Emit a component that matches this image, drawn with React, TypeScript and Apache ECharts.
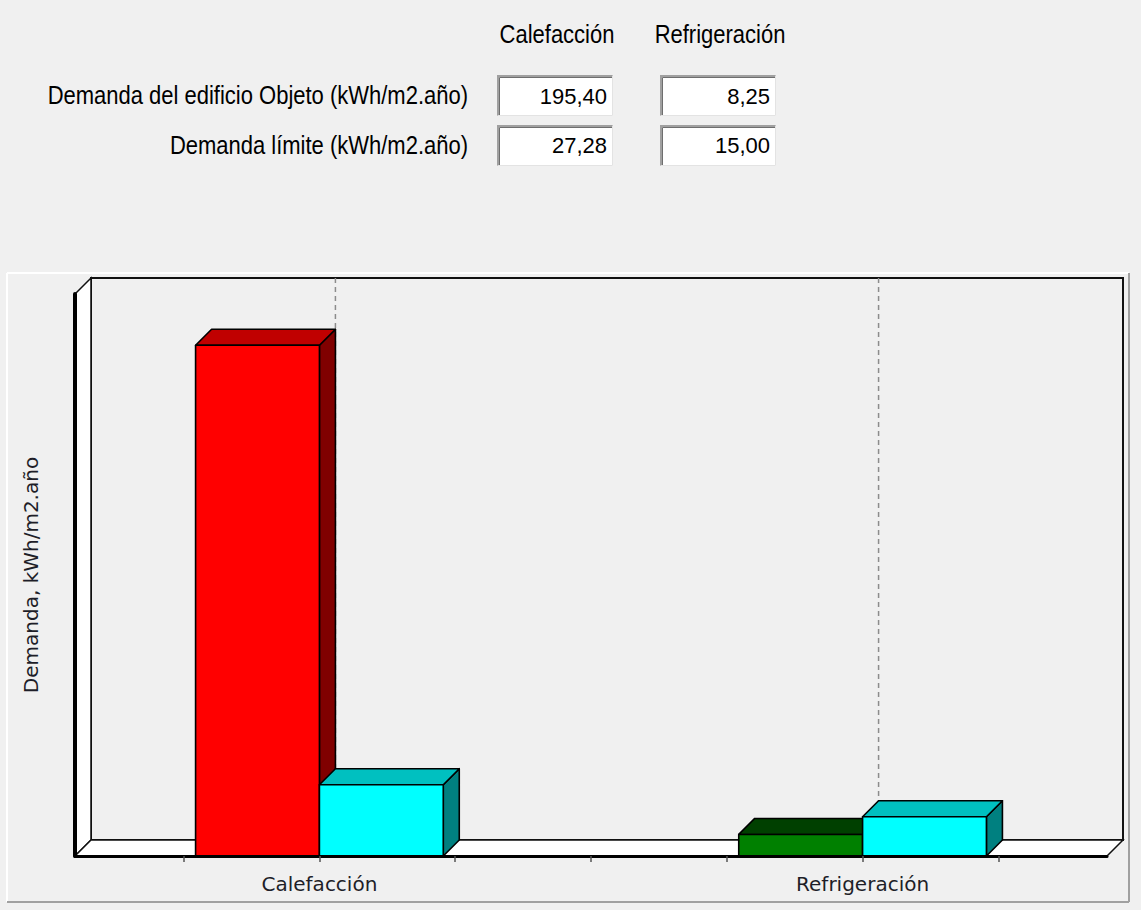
import { useEffect, useRef } from 'react';
import * as echarts from 'echarts';

// Demand figures per use (kWh/m2.año)
const categories = ['Calefacción', 'Refrigeración'];
const demandaObjeto = [195.4, 8.25];
const demandaLimite = [27.28, 15.0];
const rowLabels = ['Demanda del edificio Objeto (kWh/m2.año)', 'Demanda límite (kWh/m2.año)'];
const yAxisTitle = 'Demanda, kWh/m2.año';
const yMax = 215;
const xTickValues = [-0.25, 0, 0.25, 0.5, 0.75, 1, 1.25];

// Layout
const W = 1141;
const H = 910;
const GRID = { left: 75, right: 34, top: 294, bottom: 54 };
const DEPTH = 16;
const BAR_W = 0.228;

const FX0 = GRID.left;
const FX1 = W - GRID.right;
const FY0 = GRID.top;
const FY1 = H - GRID.bottom;

const BG = '#f0f0f0';
const UI_FONT = 'Liberation Sans';
const AXIS_FONT = 'DejaVu Sans';

// front / top / side shades
const SHADES: Record<string, string[]> = {
  red: ['#ff0000', '#c00000', '#800000'],
  green: ['#008000', '#004000', '#004000'],
  cyan: ['#00ffff', '#00c0c0', '#008080'],
};

const fmt = (v: number) => v.toFixed(2).replace('.', ',');

function barRenderer(slot: number, shadeOf: (i: number) => string[]) {
  return (params: any, api: any) => {
    const c = api.value(0);
    const v = api.value(1);
    const xl = api.coord([c + (slot - 1) * BAR_W, 0])[0];
    const xr = api.coord([c + slot * BAR_W, 0])[0];
    const yb = api.coord([c, 0])[1];
    const yt = api.coord([c, v])[1];
    const [front, top, side] = shadeOf(params.dataIndex);
    const edge = { stroke: '#000', lineWidth: 1.6, lineJoin: 'round' };
    return {
      type: 'group',
      children: [
        {
          type: 'polygon',
          shape: { points: [[xr, yt], [xr + DEPTH, yt - DEPTH], [xr + DEPTH, yb - DEPTH], [xr, yb]] },
          style: { fill: side, ...edge },
        },
        {
          type: 'polygon',
          shape: { points: [[xl, yt], [xl + DEPTH, yt - DEPTH], [xr + DEPTH, yt - DEPTH], [xr, yt]] },
          style: { fill: top, ...edge },
        },
        {
          type: 'rect',
          shape: { x: xl, y: yt, width: xr - xl, height: yb - yt },
          style: { fill: front, ...edge },
        },
      ],
    };
  };
}

function sunkenBox(x: number, y: number, w: number, h: number): any[] {
  return [
    { type: 'rect', shape: { x, y, width: w, height: h }, style: { fill: '#ffffff' } },
    {
      type: 'polyline',
      shape: { points: [[x + 1, y + h], [x + 1, y + 1], [x + w, y + 1]] },
      style: { stroke: '#a0a0a0', lineWidth: 2, fill: 'none' },
    },
    {
      type: 'polyline',
      shape: { points: [[x + 2.5, y + h - 1], [x + 2.5, y + 2.5], [x + w - 1, y + 2.5]] },
      style: { stroke: '#6e6e6e', lineWidth: 1, fill: 'none' },
    },
    {
      type: 'polyline',
      shape: { points: [[x + 0.5, y + h - 0.5], [x + w - 0.5, y + h - 0.5], [x + w - 0.5, y + 0.5]] },
      style: { stroke: '#e3e3e3', lineWidth: 1, fill: 'none' },
    },
  ];
}

function formElements(): any[] {
  const boxX = [497, 660];
  const boxY = [75, 125];
  const boxW = 116;
  const boxH = 41;
  const rows = [demandaObjeto, demandaLimite];
  const els: any[] = [];

  categories.forEach((cat, ci) => {
    els.push({
      type: 'text',
      x: boxX[ci] + boxW / 2 + 2,
      y: 35,
      scaleX: 0.88,
      style: { text: cat, fontFamily: UI_FONT, fontSize: 25, fill: '#000', align: 'center', verticalAlign: 'middle' },
    });
  });

  rows.forEach((vals, ri) => {
    const yMid = boxY[ri] + 21 - ri * 0.5;
    els.push({
      type: 'text',
      x: 468,
      y: yMid,
      scaleX: 0.88,
      style: { text: rowLabels[ri], fontFamily: UI_FONT, fontSize: 25, fill: '#000', align: 'right', verticalAlign: 'middle' },
    });
    vals.forEach((v, ci) => {
      els.push(...sunkenBox(boxX[ci], boxY[ri], boxW, boxH));
      els.push({
        type: 'text',
        x: boxX[ci] + 110,
        y: yMid,
        style: { text: fmt(v), fontFamily: UI_FONT, fontSize: 22, fill: '#000', align: 'right', verticalAlign: 'middle' },
      });
    });
  });
  return els;
}

function sceneElements(): any[] {
  const px0 = 7;
  const px1 = 1129;
  const py0 = 273;
  const py1 = 902;
  const bx0 = FX0 + DEPTH;
  const bx1 = FX1 + DEPTH;
  const by0 = FY0 - DEPTH;
  const by1 = FY1 - DEPTH;
  return [
    // chart panel frame
    { type: 'line', z: -5, shape: { x1: px0, y1: py0, x2: px1, y2: py0 }, style: { stroke: '#ffffff', lineWidth: 2 } },
    { type: 'line', z: -5, shape: { x1: px0, y1: py0, x2: px0, y2: py1 }, style: { stroke: '#ffffff', lineWidth: 2 } },
    { type: 'line', z: -5, shape: { x1: px0, y1: py1, x2: px1, y2: py1 }, style: { stroke: '#a0a0a0', lineWidth: 2 } },
    { type: 'line', z: -5, shape: { x1: px1, y1: py0, x2: px1, y2: py1 }, style: { stroke: '#a0a0a0', lineWidth: 2 } },
    // back wall
    {
      type: 'rect',
      z: -4,
      shape: { x: bx0, y: by0, width: bx1 - bx0, height: by1 - by0 },
      style: { fill: BG, stroke: '#111', lineWidth: 2 },
    },
    // left wall
    {
      type: 'polygon',
      z: -3,
      shape: { points: [[FX0, FY0], [bx0, by0], [bx0, by1], [FX0, FY1]] },
      style: { fill: '#ffffff', stroke: '#111', lineWidth: 1.5 },
    },
    // floor
    {
      type: 'polygon',
      z: -3,
      shape: { points: [[FX0, FY1], [bx0, by1], [bx1, by1], [FX1, FY1]] },
      style: { fill: '#ffffff', stroke: '#111', lineWidth: 1.5 },
    },
  ];
}

export default function App() {
  const ref = useRef<HTMLDivElement>(null);

  useEffect(() => {
    if (!ref.current) return;
    const chart = echarts.init(ref.current, null, { renderer: 'svg' });

    const exceeds = (i: number) => demandaObjeto[i] > demandaLimite[i];

    chart.setOption({
      animation: false,
      backgroundColor: BG,
      textStyle: { fontFamily: AXIS_FONT },
      grid: { ...GRID, containLabel: false },
      graphic: { elements: [...sceneElements(), ...formElements()] },
      xAxis: {
        type: 'value',
        min: -0.45,
        max: 1.45,
        z: 5,
        axisLine: { show: true, onZero: false, lineStyle: { color: '#000', width: 3 } },
        axisTick: { show: true, customValues: xTickValues, length: 6, lineStyle: { color: '#555', width: 1.5 } },
        axisLabel: {
          customValues: [0, 1],
          formatter: (v: number) => (Number.isInteger(v) && categories[v] ? categories[v] : ''),
          fontFamily: AXIS_FONT,
          fontSize: 20,
          color: '#1e1e28',
          margin: 18,
        },
        splitLine: { show: false },
      },
      yAxis: {
        type: 'value',
        min: 0,
        max: yMax,
        z: 5,
        axisLine: { show: true, onZero: false, lineStyle: { color: '#000', width: 4 } },
        axisTick: { show: false },
        axisLabel: { show: false },
        splitLine: { show: false },
        name: yAxisTitle,
        nameLocation: 'middle',
        nameRotate: 90,
        nameGap: 34,
        nameTextStyle: { fontFamily: AXIS_FONT, fontSize: 20, color: '#1e1e28' },
      },
      series: [
        {
          // dashed category guides on the back wall
          type: 'custom',
          name: 'guías',
          z: 1,
          clip: false,
          silent: true,
          data: categories.map((_, i) => [i, 0]),
          encode: { x: 0, y: 1 },
          renderItem: (_p: any, api: any) => {
            const c = api.value(0);
            const top = api.coord([c, yMax]);
            const bottom = api.coord([c, 0]);
            return {
              type: 'line',
              shape: { x1: top[0] + DEPTH, y1: top[1] - DEPTH, x2: bottom[0] + DEPTH, y2: bottom[1] - DEPTH },
              style: { stroke: '#8c8c8c', lineWidth: 1.5, lineDash: [5, 4] },
            };
          },
        },
        {
          type: 'custom',
          name: rowLabels[0],
          z: 2,
          clip: false,
          data: categories.map((_, i) => [i, demandaObjeto[i]]),
          encode: { x: 0, y: 1 },
          renderItem: barRenderer(0, (i) => (exceeds(i) ? SHADES.red : SHADES.green)),
        },
        {
          type: 'custom',
          name: rowLabels[1],
          z: 3,
          clip: false,
          data: categories.map((_, i) => [i, demandaLimite[i]]),
          encode: { x: 0, y: 1 },
          renderItem: barRenderer(1, () => SHADES.cyan),
        },
      ],
    });

    return () => chart.dispose();
  }, []);

  return <div ref={ref} style={{ position: 'absolute', left: 0, top: 0, width: W, height: H }} />;
}
